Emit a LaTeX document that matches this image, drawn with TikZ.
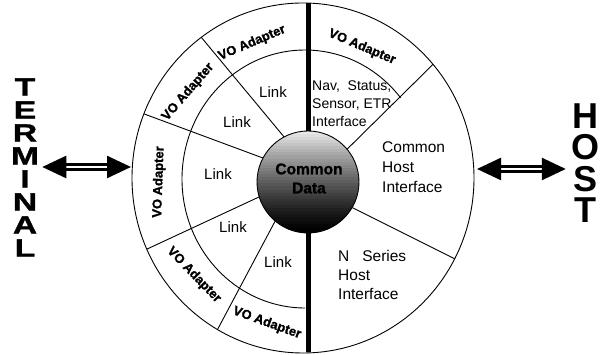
\documentclass[tikz,border=0pt]{standalone}
\usepackage{fontspec}
\setmainfont{Liberation Sans}
\newfontfamily\widebf{Liberation Sans}[FakeStretch=1.35, FakeBold=1.2]
\newfontfamily\heavybf{Liberation Sans}[FakeBold=1.4]
\usetikzlibrary{arrows.meta,calc}

\begin{document}
\begin{tikzpicture}[x=1pt,y=1pt,
    ring/.style={line width=0.9pt},
    bus/.style={line width=5pt},
    lnk/.style={font=\fontsize{15}{18}\selectfont},
    vo/.style={font=\heavybf\bfseries\fontsize{13}{16}\selectfont, inner sep=0pt},
    txt/.style={align=left, anchor=north west, inner sep=0pt},
    dbl/.style={double, double distance=2.5pt, line width=2.5pt,
      {Triangle[length=24pt,width=22pt]}-{Triangle[length=24pt,width=22pt]}}]
  \useasboundingbox (0,0) rectangle (600,355);
  % centres of the wheel, the inner ring and the bus ends
  \coordinate (O) at (303,177);
  \coordinate (M) at (305,176);
  \coordinate (top) at (308,352);
  \coordinate (bot) at (308,3);
  \coordinate (lport) at (131,188);
  \coordinate (rport) at (477,186);

  % rim and inner ring
  \draw[ring] (O) ellipse [x radius=171pt, y radius=175pt];
  \draw[ring] ($(M)+(39:123 and 129)$)
    arc [start angle=39, end angle=270, x radius=123pt, y radius=129pt];

  % data sphere on the bus, shaded in bands from black up to light grey
  \node[circle, minimum size=102pt, inner sep=0pt] (cdb) at (308,173) {};
  \begin{scope}
    \clip (cdb.center) circle (51pt);
    \foreach \i in {0,...,33} {
      \pgfmathsetmacro\p{100-95*(\i/33)^1.3}
      \fill[black!\p] (257,{122+\i*3.1}) rectangle (359,{122.5+(\i+1)*3.1});
    }
  \end{scope}
  \draw[ring] (cdb.center) circle (51pt);
  \draw[bus] (top) -- (cdb.north);
  \draw[bus] (cdb.south) -- (bot);
  \node[font=\heavybf\bfseries\fontsize{15.5}{19}\selectfont, align=center] (cdbtxt)
    at (309,176.5) {Common\\Data};

  % spokes from the rim to the sphere
  \foreach \a/\b in {126.5/118, 158.5/152, 204/197, 240/230, 40.5/40, -27.5/330}
    \draw[ring] ($(O)+(\a:171 and 175)$) -- (cdb.\b);

  % adapters in the ring
  \foreach \x/\y/\r [count=\i] in {362/308/-23, 252/312/23, 188/263/49,
      159/173/88, 194/80/-46, 267/32/-20}
    \node[vo, rotate=\r] (vo\i) at (\x,\y) {VO Adapter};

  % links
  \foreach \x/\y [count=\i] in {273/263, 237/233, 218/181, 233/128, 278/93}
    \node[lnk] (link\i) at (\x,\y) {Link};

  % host side
  \node[txt, font=\fontsize{14}{18}\selectfont] (nav) at (312,274)
    {Nav,~ Status,\\Sensor, ETR\\Interface};
  \node[txt, font=\fontsize{15.5}{20}\selectfont] (chi) at (382,214)
    {Common\\Host\\Interface};
  \node[txt, font=\fontsize{15.5}{19}\selectfont] (nsh) at (338,105)
    {N~~ Series\\Host\\Interface};

  % ends
  \node[font=\widebf\bfseries\fontsize{25}{23}\selectfont, align=center,
    inner xsep=3pt, inner ysep=0pt] (term) at (25,187.5) {T\\E\\R\\M\\I\\N\\A\\L};
  \node[font=\bfseries\fontsize{36}{31.3}\selectfont, align=center,
    inner xsep=5pt, inner ysep=0pt] (host) at (585,192) {H\\O\\S\\T};
  \draw[dbl] (term.east |- lport) -- (lport);
  \draw[dbl] (rport) -- (host.west |- rport);
\end{tikzpicture}
\end{document}
